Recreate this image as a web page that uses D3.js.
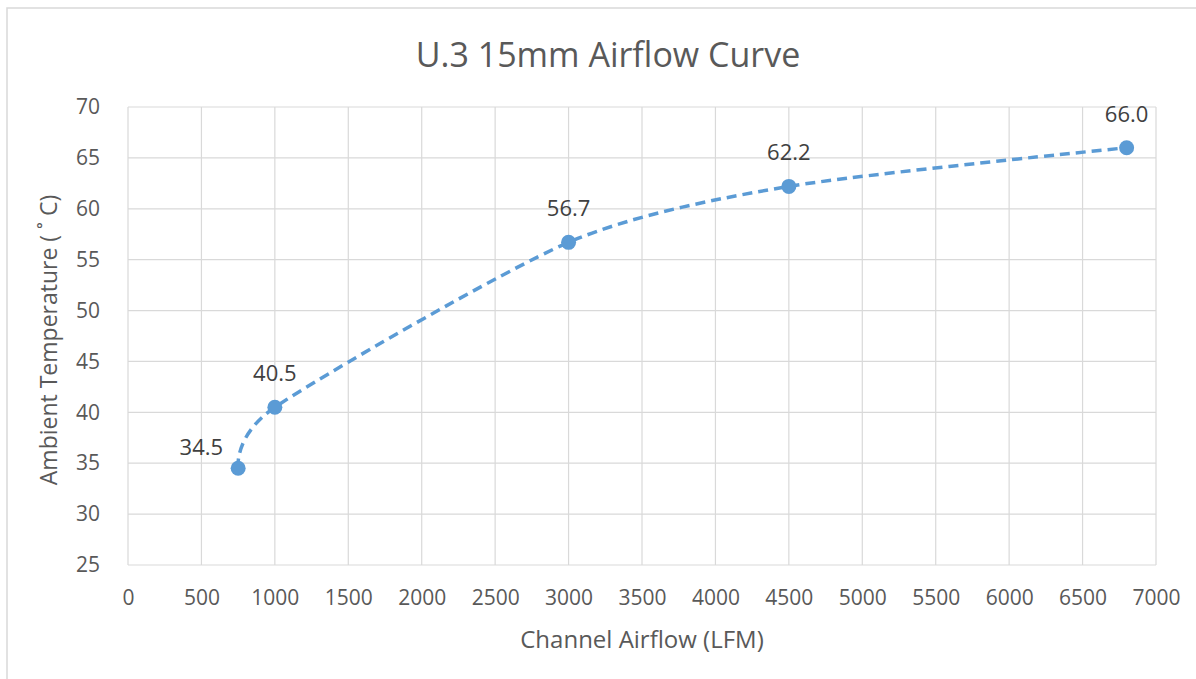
<!DOCTYPE html>
<html>
<head>
<meta charset="utf-8">
<script src="https://cdn.jsdelivr.net/npm/d3@7"></script>
<style>
  body { margin: 0; background: #fff; }
  svg text { font-family: "Open Sans", sans-serif; }
</style>
</head>
<body>
<script>
const airflow = [750, 1000, 3000, 4500, 6800];
const temperature = [34.5, 40.5, 56.7, 62.2, 66.0];
const xTicks = [0, 500, 1000, 1500, 2000, 2500, 3000, 3500, 4000, 4500, 5000, 5500, 6000, 6500, 7000];
const yTicks = [25, 30, 35, 40, 45, 50, 55, 60, 65, 70];

const width = 1196;
const height = 679;
const plotLeft = 128, plotRight = 1156, plotTop = 107, plotBottom = 565;
const blue = "#5b9bd5";

const dataset = airflow.map((x, i) => ({ x: x, y: temperature[i] }));

const svg = d3
  .select("body")
  .append("svg")
  .attr("width", width)
  .attr("height", height);

// chart frame
svg
  .append("rect")
  .attr("x", 7)
  .attr("y", 8)
  .attr("width", width)
  .attr("height", height)
  .attr("fill", "#fff")
  .attr("stroke", "#d9d9d9")
  .attr("stroke-width", 1.5);

const xScale = d3.scaleLinear().domain([0, 7000]).range([plotLeft, plotRight]);
const yScale = d3.scaleLinear().domain([25, 70]).range([plotBottom, plotTop]);

// gridlines
svg
  .append("g")
  .selectAll("line")
  .data(xTicks)
  .enter()
  .append("line")
  .attr("x1", (d) => xScale(d))
  .attr("x2", (d) => xScale(d))
  .attr("y1", plotTop)
  .attr("y2", plotBottom)
  .attr("stroke", "#d9d9d9")
  .attr("stroke-width", 1.2);

svg
  .append("g")
  .selectAll("line")
  .data(yTicks)
  .enter()
  .append("line")
  .attr("x1", plotLeft)
  .attr("x2", plotRight)
  .attr("y1", (d) => yScale(d))
  .attr("y2", (d) => yScale(d))
  .attr("stroke", "#d9d9d9")
  .attr("stroke-width", 1.2);

// axes (labels only, lines come from the grid)
const xAxis = d3
  .axisBottom(xScale)
  .tickValues(xTicks)
  .tickFormat(d3.format("d"))
  .tickSize(0)
  .tickPadding(25);
const xG = svg
  .append("g")
  .attr("transform", `translate(0, ${plotBottom})`)
  .call(xAxis);
xG.select(".domain").remove();
xG.selectAll("text").style("font-size", "21px").attr("fill", "#595959");

const yAxis = d3
  .axisLeft(yScale)
  .tickValues(yTicks)
  .tickFormat(d3.format("d"))
  .tickSize(0)
  .tickPadding(28);
const yG = svg
  .append("g")
  .attr("transform", `translate(${plotLeft}, 0)`)
  .call(yAxis);
yG.select(".domain").remove();
yG.selectAll("text").style("font-size", "21px").attr("fill", "#595959");

// titles
svg
  .append("text")
  .attr("x", 608)
  .attr("y", 67)
  .attr("text-anchor", "middle")
  .style("font-size", "34px")
  .attr("fill", "#595959")
  .text("U.3 15mm Airflow Curve");

svg
  .append("text")
  .attr("x", 642)
  .attr("y", 648)
  .attr("text-anchor", "middle")
  .style("font-size", "24px")
  .attr("fill", "#595959")
  .text("Channel Airflow (LFM)");

svg
  .append("text")
  .attr("transform", "translate(57, 340) rotate(-90)")
  .attr("text-anchor", "middle")
  .style("font-size", "23px")
  .attr("fill", "#595959")
  .text("Ambient Temperature ( ˚ C)");

// smoothed dashed line (close to Excel's smoothing)
const line = d3
  .line()
  .x((d) => xScale(d.x))
  .y((d) => yScale(d.y))
  .curve(d3.curveCardinal.tension(0.25));

svg
  .append("path")
  .datum(dataset)
  .attr("d", line)
  .attr("fill", "none")
  .attr("stroke", blue)
  .attr("stroke-width", 3.5)
  .attr("stroke-dasharray", "10,6");

svg
  .selectAll("circle")
  .data(dataset)
  .enter()
  .append("circle")
  .attr("cx", (d) => xScale(d.x))
  .attr("cy", (d) => yScale(d.y))
  .attr("r", 7.5)
  .attr("fill", blue);

// data labels
svg
  .append("g")
  .selectAll("text")
  .data(dataset)
  .enter()
  .append("text")
  .attr("x", (d, i) => (i === 0 ? xScale(d.x) - 15 : xScale(d.x)))
  .attr("y", (d, i) => (i === 0 ? yScale(d.y) - 13 : yScale(d.y) - 26))
  .attr("text-anchor", (d, i) => (i === 0 ? "end" : "middle"))
  .style("font-size", "22px")
  .attr("fill", "#404040")
  .text((d) => d.y.toFixed(1));
</script>
</body>
</html>
